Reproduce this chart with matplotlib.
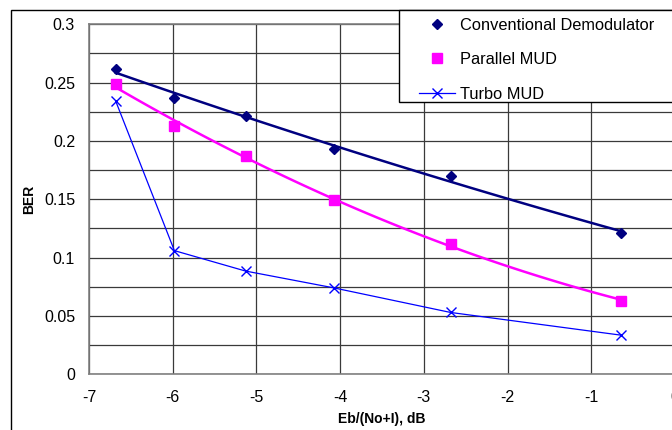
import matplotlib.pyplot as plt
import matplotlib.patches as patches
from matplotlib.lines import Line2D
import numpy as np

plt.rcParams['font.family'] = ['Liberation Sans', 'DejaVu Sans']

# Eb/(No+I) in dB for each measurement
ebno = [-6.68, -5.98, -5.13, -4.07, -2.68, -0.64]
conventional = [0.262, 0.237, 0.221, 0.193, 0.170, 0.121]
parallel_mud = [0.249, 0.213, 0.187, 0.149, 0.112, 0.063]
turbo_mud = [0.234, 0.106, 0.0885, 0.074, 0.053, 0.0335]

x_ticks = [-7, -6, -5, -4, -3, -2, -1, 0]
y_ticks = [0, 0.05, 0.1, 0.15, 0.2, 0.25, 0.3]

W, H = 672, 430
fig = plt.figure(figsize=(6.72, 4.3), dpi=100)
ax = fig.add_axes([89 / W, 1 - 374.3 / H, (675 - 89) / W, 350 / H])

# outer chart frame and legend frame (both run off the right edge)
fig.patches.append(patches.Rectangle((11 / W, -0.1), 2, 1 - 10 / H + 0.1,
                                     transform=fig.transFigure, fill=False,
                                     ec='black', lw=1.0, zorder=0))
fig.patches.append(patches.Rectangle((399 / W, 1 - 102 / H), 2, 92 / H,
                                     transform=fig.transFigure, fc='white',
                                     ec='black', lw=1.0, zorder=5))

ax.set_xlim(-7, 0)
ax.set_ylim(0, 0.3)
ax.set_xticks(x_ticks)
ax.set_xticklabels([str(t) for t in x_ticks])
ax.set_yticks(y_ticks)
ax.set_yticklabels(['0', '0.05', '0.1', '0.15', '0.2', '0.25', '0.3'])
ax.set_yticks(np.arange(0.025, 0.3, 0.05), minor=True)
ax.grid(True, which='both', color='#3a3a3a', lw=0.9)
ax.set_axisbelow(True)
ax.tick_params(which='both', length=0)
ax.tick_params(axis='y', pad=10, labelsize=11.5)
ax.tick_params(axis='x', pad=11, labelsize=11.5)
for s in ax.spines.values():
    s.set_color('#808080')
    s.set_linewidth(1.2)

# trendlines like the spreadsheet (2nd order fit of the points)
xs = np.linspace(min(ebno), max(ebno), 100)
ax.plot(xs, np.polyval(np.polyfit(ebno, conventional, 2), xs),
        color='#000080', lw=1.8, zorder=3)
ax.plot(xs, np.polyval(np.polyfit(ebno, parallel_mud, 2), xs),
        color='#FF00FF', lw=1.8, zorder=3)

ax.plot(ebno, conventional, ls='none', marker='D', ms=5.5,
        color='#000080', zorder=4)
ax.plot(ebno, parallel_mud, ls='none', marker='s', ms=7.5,
        color='#FF00FF', zorder=4)
ax.plot(ebno, turbo_mud, color='#0000FF', lw=0.9, marker='x', ms=7,
        mew=1.0, zorder=4)

ax.set_xlabel('Eb/(No+I), dB', fontsize=10, fontweight='bold', labelpad=5)
ax.set_ylabel('BER', fontsize=10, fontweight='bold', labelpad=6)

handles = [
    Line2D([], [], ls='none', marker='D', ms=5.5, color='#000080'),
    Line2D([], [], ls='none', marker='s', ms=7.5, color='#FF00FF'),
    Line2D([], [], color='#0000FF', lw=0.9, marker='x', ms=7, mew=1.0),
]
leg = fig.legend(handles, ['Conventional Demodulator', 'Parallel MUD', 'Turbo MUD'],
                 loc='upper left', bbox_to_anchor=(412 / W, 1 - 11 / H),
                 fontsize=11.8, frameon=False, labelspacing=1.2,
                 handlelength=2.25, handletextpad=0.25, borderpad=0.4,
                 borderaxespad=0)
leg.set_zorder(6)

fig.savefig('out.png', dpi=100)
